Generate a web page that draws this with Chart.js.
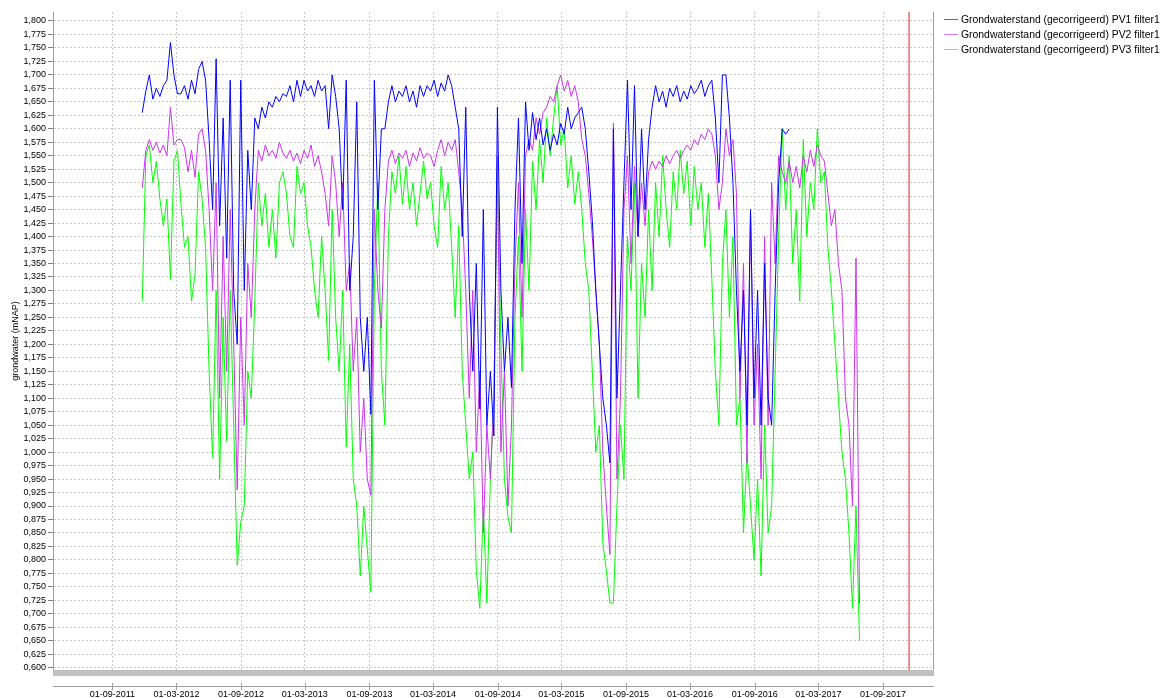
<!DOCTYPE html>
<html>
<head>
<meta charset="utf-8">
<script src="https://cdn.jsdelivr.net/npm/chart.js@4.4.0/dist/chart.umd.min.js"></script>
<style>
  html, body { margin: 0; padding: 0; background: #fff; }
  #wrap { position: relative; width: 1162px; height: 698px; }
  #legend { position: absolute; left: 944px; top: 12px; font: 10.4px "Liberation Sans", sans-serif; color: #000; }
  #legend div { height: 15px; display: flex; align-items: center; white-space: nowrap; }
  #legend span.ln { display: inline-block; width: 14px; height: 1px; margin-right: 3px; opacity: 0.65; }
</style>
</head>
<body>
<div id="wrap">
  <canvas id="gw" width="1162" height="698"></canvas>
  <div id="legend"></div>
</div>
<script>
// Grondwaterstand PV1/PV2/PV3 - one sample every 10 days

const seriesNames = [
    "Grondwaterstand (gecorrigeerd) PV1 filter1",
    "Grondwaterstand (gecorrigeerd) PV2 filter1",
    "Grondwaterstand (gecorrigeerd) PV3 filter1",
];
const seriesColors = ["#0000ff", "#cc33ee", "#00ff00"];

const sampleStart = "25-11-2011";
const sampleStepDays = 10;

const pv1 = [
    1.630, 1.670, 1.700, 1.655, 1.675, 1.660, 1.680, 1.690, 1.760, 1.700,
    1.665, 1.665, 1.680, 1.655, 1.690, 1.665, 1.710, 1.725, 1.690, 1.580,
    1.450, 1.730, 1.420, 1.620, 1.360, 1.690, 1.300, 1.200, 1.690, 1.300,
    1.560, 1.450, 1.620, 1.600, 1.640, 1.620, 1.650, 1.640, 1.660, 1.650,
    1.665, 1.660, 1.680, 1.650, 1.690, 1.660, 1.690, 1.670, 1.680, 1.660,
    1.690, 1.670, 1.680, 1.600, 1.700, 1.660, 1.600, 1.450, 1.690, 1.300,
    1.400, 1.650, 1.250, 1.150, 1.250, 1.070, 1.690, 1.450, 1.600, 1.600,
    1.650, 1.680, 1.650, 1.670, 1.660, 1.680, 1.650, 1.670, 1.640, 1.680,
    1.660, 1.680, 1.670, 1.690, 1.660, 1.685, 1.670, 1.700, 1.680, 1.640,
    1.600, 1.400, 1.640, 1.300, 1.150, 1.350, 1.080, 1.450, 1.050, 1.150,
    1.030, 1.640, 1.300, 1.150, 1.250, 1.120, 1.450, 1.620, 1.350, 1.650,
    1.560, 1.630, 1.580, 1.620, 1.570, 1.600, 1.560, 1.590, 1.570, 1.610,
    1.590, 1.640, 1.600, 1.620, 1.630, 1.640, 1.600, 1.520, 1.430, 1.300,
    1.200, 1.100, 1.050, 0.980, 1.600, 1.100, 1.300, 1.500, 1.690, 1.450,
    1.680, 1.400, 1.600, 1.450, 1.580, 1.640, 1.680, 1.650, 1.670, 1.640,
    1.675, 1.660, 1.680, 1.650, 1.670, 1.655, 1.680, 1.665, 1.675, 1.690,
    1.660, 1.680, 1.690, 1.620, 1.500, 1.700, 1.700, 1.620, 1.500, 1.300,
    1.150, 1.300, 1.050, 1.450, 1.100, 1.300, 1.050, 1.350, 1.100, 1.050,
    1.300, 1.500, 1.600, 1.590, 1.600, null, null, null, null, null,
    null, null, null, null, null, null, null, null, null, null,
    null, null, null, null, null,
];

const pv2 = [
    1.490, 1.560, 1.580, 1.560, 1.575, 1.555, 1.570, 1.550, 1.640, 1.570,
    1.580, 1.580, 1.565, 1.520, 1.560, 1.510, 1.590, 1.600, 1.560, 1.450,
    1.300, 1.500, 1.100, 1.400, 1.150, 1.450, 1.200, 0.930, 1.250, 1.050,
    1.350, 1.250, 1.450, 1.560, 1.540, 1.570, 1.550, 1.560, 1.545, 1.575,
    1.555, 1.545, 1.560, 1.540, 1.555, 1.535, 1.560, 1.545, 1.570, 1.530,
    1.550, 1.520, 1.480, 1.420, 1.550, 1.500, 1.400, 1.500, 1.300, 1.350,
    1.150, 1.250, 1.000, 1.100, 0.950, 0.920, 1.450, 1.300, 1.230, 1.450,
    1.540, 1.560, 1.535, 1.555, 1.545, 1.560, 1.530, 1.555, 1.540, 1.565,
    1.545, 1.555, 1.550, 1.530, 1.560, 1.580, 1.550, 1.575, 1.560, 1.580,
    1.520, 1.450, 1.300, 1.100, 1.300, 1.000, 1.150, 0.850, 1.050, 0.950,
    1.100, 1.550, 1.000, 1.150, 0.900, 1.050, 1.350, 1.500, 1.250, 1.550,
    1.580, 1.560, 1.620, 1.590, 1.630, 1.640, 1.660, 1.650, 1.680, 1.700,
    1.670, 1.690, 1.660, 1.680, 1.650, 1.580, 1.550, 1.480, 1.400, 1.300,
    1.200, 1.000, 0.900, 0.810, 1.610, 0.950, 1.100, 1.450, 1.550, 1.350,
    1.530, 1.400, 1.500, 1.420, 1.520, 1.540, 1.525, 1.540, 1.530, 1.550,
    1.535, 1.550, 1.560, 1.545, 1.560, 1.570, 1.560, 1.580, 1.570, 1.590,
    1.580, 1.600, 1.590, 1.550, 1.450, 1.500, 1.600, 1.550, 1.580, 1.480,
    1.100, 1.350, 0.980, 1.450, 1.050, 1.200, 0.950, 1.400, 1.050, 1.500,
    1.350, 1.550, 1.520, 1.500, 1.540, 1.500, 1.530, 1.490, 1.550, 1.520,
    1.560, 1.530, 1.570, 1.550, 1.540, 1.480, 1.420, 1.450, 1.350, 1.300,
    1.100, 1.050, 0.900, 1.360, 0.720,
];

const pv3 = [
    1.280, 1.550, 1.570, 1.500, 1.540, 1.470, 1.420, 1.470, 1.320, 1.540,
    1.560, 1.460, 1.380, 1.400, 1.280, 1.330, 1.520, 1.470, 1.380, 1.150,
    0.990, 1.300, 0.950, 1.250, 1.020, 1.300, 1.050, 0.790, 0.870, 0.900,
    1.150, 1.100, 1.280, 1.500, 1.420, 1.480, 1.380, 1.450, 1.360, 1.500,
    1.520, 1.480, 1.400, 1.380, 1.530, 1.480, 1.500, 1.420, 1.380, 1.300,
    1.250, 1.400, 1.300, 1.170, 1.450, 1.250, 1.150, 1.300, 1.010, 1.200,
    0.950, 0.900, 0.770, 0.900, 0.820, 0.740, 1.300, 1.500, 1.150, 1.050,
    1.400, 1.520, 1.480, 1.550, 1.460, 1.530, 1.450, 1.500, 1.420, 1.480,
    1.540, 1.470, 1.500, 1.420, 1.380, 1.530, 1.450, 1.500, 1.380, 1.250,
    1.420, 1.150, 1.050, 0.950, 1.000, 0.780, 0.710, 0.900, 0.720, 0.950,
    1.100, 1.530, 1.200, 0.950, 0.880, 0.850, 1.250, 1.400, 1.150, 1.450,
    1.300, 1.540, 1.450, 1.580, 1.500, 1.620, 1.550, 1.620, 1.680, 1.570,
    1.600, 1.490, 1.550, 1.460, 1.520, 1.450, 1.350, 1.300, 1.150, 1.000,
    1.050, 0.830, 0.780, 0.720, 0.720, 0.900, 1.050, 0.950, 1.400, 1.300,
    1.500, 1.100, 1.350, 1.250, 1.450, 1.300, 1.500, 1.400, 1.550, 1.450,
    1.380, 1.520, 1.450, 1.560, 1.480, 1.540, 1.420, 1.530, 1.450, 1.500,
    1.380, 1.480, 1.320, 1.150, 1.050, 1.350, 1.450, 1.250, 1.400, 1.050,
    1.100, 0.850, 1.000, 0.900, 0.800, 0.950, 0.770, 1.050, 0.850, 0.900,
    1.150, 1.400, 1.600, 1.450, 1.550, 1.350, 1.450, 1.280, 1.580, 1.400,
    1.500, 1.450, 1.600, 1.500, 1.520, 1.380, 1.300, 1.200, 1.100, 1.000,
    0.950, 0.850, 0.710, 0.900, 0.650,
];

const xTickLabels = [
    "01-09-2011", "01-03-2012", "01-09-2012", "01-03-2013", "01-09-2013",
    "01-03-2014", "01-09-2014", "01-03-2015", "01-09-2015", "01-03-2016",
    "01-09-2016", "01-03-2017", "01-09-2017",
];
const xStart = "16-03-2011";
const xEnd = "21-01-2018";
const markerDate = "14-11-2017";

const yMin = 0.5957;
const yMax = 1.8167;
const yTickFirst = 0.6;
const yTickLast = 1.8;
const yTickStep = 0.025;

// dd-mm-yyyy -> day number
function dayNum(s) {
    const p = s.split("-");
    return Date.UTC(+p[2], +p[1] - 1, +p[0]) / 86400000;
}

const firstDay = dayNum(sampleStart);
const sampleDays = pv2.map((v, i) => firstDay + i * sampleStepDays);
const xTickDays = xTickLabels.map(dayNum);
const yTickValues = [];
for (let k = 0; yTickFirst + k * yTickStep <= yTickLast + 1e-9; k++) {
    yTickValues.push(+(yTickFirst + k * yTickStep).toFixed(3));
}

Chart.defaults.font.family = "'Liberation Sans', sans-serif";
Chart.defaults.color = "#000";

// grey band + lower date axis like the original viewer
const bottomAxis = {
    id: "bottomAxis",
    afterDraw(chart) {
        const ctx = chart.ctx;
        const a = chart.chartArea;
        const x = chart.scales.x;
        ctx.save();
        ctx.fillStyle = "#c0c0c0";
        ctx.fillRect(a.left, a.bottom, a.right - a.left + 1, 6);
        ctx.strokeStyle = "#a0a0a0";
        ctx.lineWidth = 1;
        ctx.beginPath();
        ctx.moveTo(a.left, a.bottom + 16.5);
        ctx.lineTo(a.right + 1, a.bottom + 16.5);
        x.ticks.forEach(t => {
            const px = Math.round(x.getPixelForValue(t.value)) + 0.5;
            ctx.moveTo(px, a.bottom + 13);
            ctx.lineTo(px, a.bottom + 20);
        });
        ctx.moveTo(a.right + 0.5, a.top);
        ctx.lineTo(a.right + 0.5, a.bottom);
        ctx.stroke();
        ctx.restore();
    },
};

const datasets = [pv1, pv2, pv3].map((vals, s) => ({
    label: seriesNames[s],
    data: vals.map((v, i) => ({ x: sampleDays[i], y: v })),
    borderColor: seriesColors[s],
    borderWidth: 1,
    pointRadius: 0,
    tension: 0,
    spanGaps: false,
}));

datasets.push({
    label: "marker",
    data: [{ x: dayNum(markerDate), y: yMin }, { x: dayNum(markerDate), y: yMax }],
    borderColor: "#f06a6a",
    borderWidth: 1.5,
    pointRadius: 0,
});

new Chart(document.getElementById("gw"), {
    type: "line",
    data: { datasets: datasets },
    plugins: [bottomAxis],
    options: {
        responsive: false,
        animation: false,
        layout: { padding: { top: 12, right: 229, left: 0, bottom: 0 } },
        plugins: {
            legend: { display: false },
            tooltip: { enabled: false },
        },
        scales: {
            x: {
                type: "linear",
                min: dayNum(xStart),
                max: dayNum(xEnd),
                afterBuildTicks: scale => { scale.ticks = xTickDays.map(v => ({ value: v })); },
                afterFit: scale => { scale.height = 28; },
                ticks: {
                    autoSkip: false,
                    maxRotation: 0,
                    padding: 19,
                    font: { size: 9 },
                    callback: (v, i) => xTickLabels[i],
                },
                grid: { color: "#c8c8c8", drawTicks: false },
                border: { display: false, dash: [2, 2] },
            },
            y: {
                min: yMin,
                max: yMax,
                afterBuildTicks: scale => { scale.ticks = yTickValues.map(v => ({ value: v })); },
                afterFit: scale => { scale.width = 53; },
                ticks: {
                    autoSkip: false,
                    padding: 2,
                    font: { size: 9 },
                    callback: v => v.toFixed(3).replace(".", ","),
                },
                grid: { color: "#c8c8c8", tickLength: 5, tickColor: "#808080", tickBorderDash: [] },
                border: { color: "#a0a0a0", dash: [2, 2] },
                title: {
                    display: true,
                    text: "grondwater (mNAP)",
                    font: { size: 9 },
                    padding: { top: 10, bottom: 0 },
                },
            },
        },
    },
});

// legend, top right
const legend = document.getElementById("legend");
seriesNames.forEach((name, s) => {
    const row = document.createElement("div");
    const ln = document.createElement("span");
    ln.className = "ln";
    ln.style.background = seriesColors[s];
    row.appendChild(ln);
    row.appendChild(document.createTextNode(name));
    legend.appendChild(row);
});
</script>
</body>
</html>
